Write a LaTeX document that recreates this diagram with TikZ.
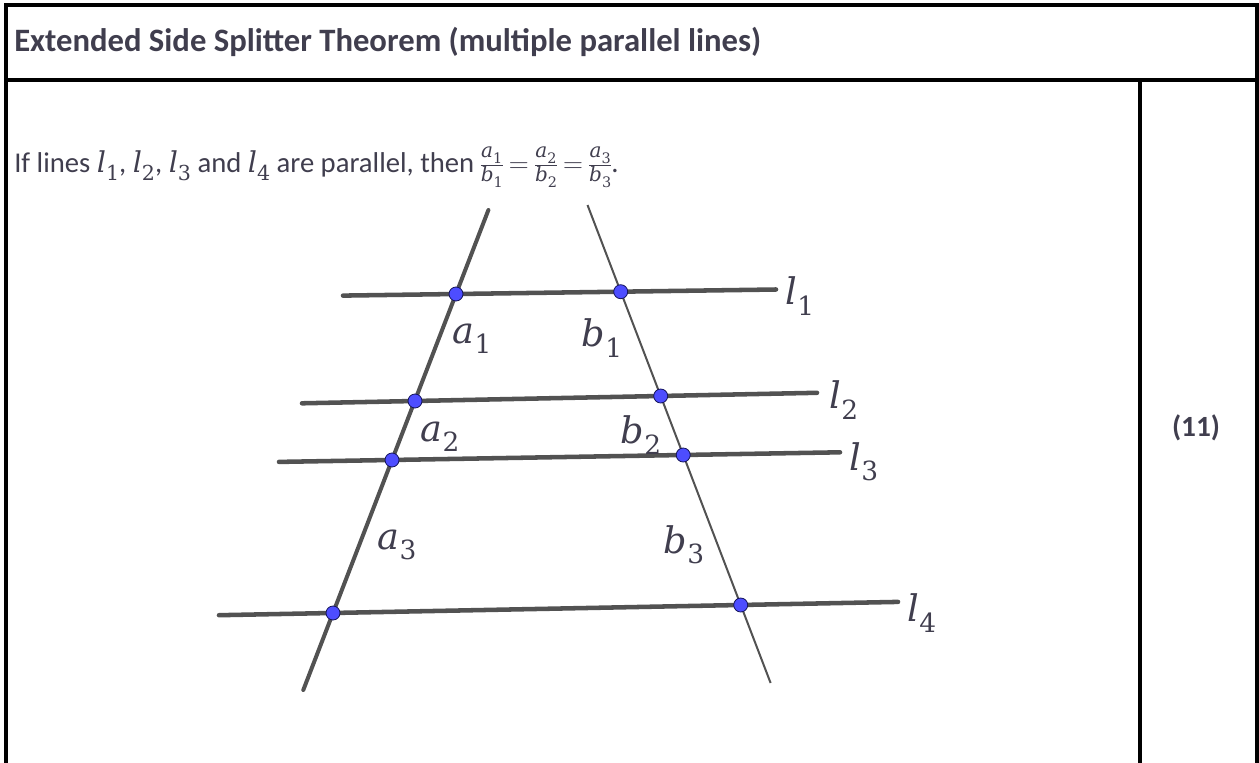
\documentclass[tikz,border=0pt]{standalone}
\usepackage{fontspec}
\usepackage{graphicx}
\setmainfont{Carlito}
\newfontfamily\mfont{DejaVu Serif}
\usepackage{amsmath}
\newcommand{\mv}[2]{{\mfont\itshape #1}\raisebox{-0.28em}{\mfont\scalebox{0.72}{#2}}}
\newcommand{\fr}[2]{\frac{\text{\mv{a}{#1}}}{\text{\mv{b}{#2}}}}
\definecolor{txt}{RGB}{64,62,78}
\definecolor{lngray}{RGB}{82,82,82}
\definecolor{ptblue}{RGB}{77,77,255}
\definecolor{ptedge}{RGB}{20,20,90}
\tikzset{
  frame/.style={line width=2.3pt, black},
  hline/.style={line width=3.4pt, lngray, line cap=round},
  tleft/.style={line width=3pt, lngray, line cap=round},
  tright/.style={line width=1.5pt, lngray},
  dot/.style={circle, fill=ptblue, draw=ptedge, line width=0.6pt, minimum size=10.5pt, inner sep=0pt},
  lab/.style={text=txt, font=\fontsize{27.5}{30}\selectfont, inner sep=0pt},
  title/.style={text=txt, font=\fontsize{24.5}{28}\selectfont\bfseries, inner sep=0pt, anchor=base west},
  body/.style={text=txt, font=\fontsize{21.5}{25}\selectfont, inner sep=0pt, anchor=base west}
}
\begin{document}
\begin{tikzpicture}[x=0.75pt,y=-0.75pt]
\useasboundingbox (0,0) rectangle (1259,763);
% table frame
\draw[frame] (6,763) -- (6,5) -- (1257,5) -- (1257,763);
\draw[frame] (6,80) -- (1257,80);
\draw[frame] (1140,80) -- (1140,763);
% texts
\node[title] (ttl) at (14,52) {Extended Side Splitter Theorem (multiple parallel lines)};
\node[body] (stmt) at (14,172) {\nulldelimiterspace=0pt\thickmuskip=4mu If lines \mv{l}{1}, \mv{l}{2}, \mv{l}{3} and \mv{l}{4} are parallel, then $\fr{1}{1}=\fr{2}{2}=\fr{3}{3}$.};
\node[text=txt, font=\fontsize{22}{25}\selectfont\bfseries, inner sep=0pt] (num) at (1196,428) {(11)};
% line end coordinates
\coordinate (Ltop) at (488.4,210);
\coordinate (Lbot) at (303.3,690);
\coordinate (Rtop) at (587.5,205);
\coordinate (Rbot) at (770.6,683);
\coordinate (h1s) at (343,295.6); \coordinate (h1e) at (776,289.5);
\coordinate (h2s) at (302,403.3); \coordinate (h2e) at (817,392.8);
\coordinate (h3s) at (279,461.9); \coordinate (h3e) at (840,452.3);
\coordinate (h4s) at (219,615.2); \coordinate (h4e) at (898,601.9);
% lines
\draw[hline] (h1s) -- (h1e);
\draw[hline] (h2s) -- (h2e);
\draw[hline] (h3s) -- (h3e);
\draw[hline] (h4s) -- (h4e);
\draw[tleft] (Ltop) -- (Lbot);
\draw[tright] (Rtop) -- (Rbot);
% points
\node[dot] (A1) at (456,294) {};
\node[dot] (B1) at (620.7,291.7) {};
\node[dot] (A2) at (415,401) {};
\node[dot] (B2) at (660.7,396) {};
\node[dot] (A3) at (392,460) {};
\node[dot] (B3) at (683.2,455) {};
\node[dot] (A4) at (333,613) {};
\node[dot] (B4) at (740.7,605) {};
% labels
\node[lab] (la1) at (472,339) {\mv{a}{1}};
\node[lab] (lb1) at (602,338) {\mv{b}{1}};
\node[lab] (la2) at (440,437) {\mv{a}{2}};
\node[lab] (lb2) at (641,435) {\mv{b}{2}};
\node[lab] (la3) at (397,545) {\mv{a}{3}};
\node[lab] (lb3) at (684,545) {\mv{b}{3}};
\node[lab] (ll1) at (800,296) {\mv{l}{1}};
\node[lab] (ll2) at (844,400) {\mv{l}{2}};
\node[lab] (ll3) at (864,462) {\mv{l}{3}};
\node[lab] (ll4) at (922,613) {\mv{l}{4}};
\end{tikzpicture}
\end{document}
